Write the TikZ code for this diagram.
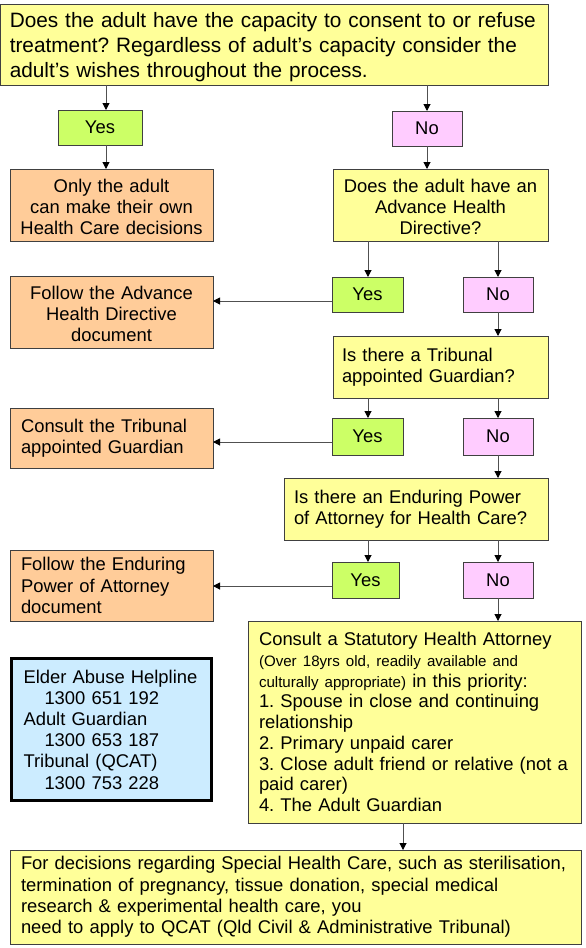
\documentclass[tikz,border=0pt]{standalone}
\usepackage{fontspec}
\setmainfont{Liberation Sans}
\usetikzlibrary{arrows.meta}
\frenchspacing
\definecolor{byel}{HTML}{FFFF99}
\definecolor{bgrn}{HTML}{CCFF66}
\definecolor{bpnk}{HTML}{FFCCFF}
\definecolor{borg}{HTML}{FFCC99}
\definecolor{bblu}{HTML}{CCECFF}
\definecolor{edgec}{HTML}{404040}
\definecolor{linec}{HTML}{505050}
\begin{document}
\begin{tikzpicture}[x=1pt,y=-1pt,
  box/.style={draw=edgec,line width=1pt,inner sep=0pt,outer sep=0pt,
    font=\fontsize{18.4}{21.3}\selectfont},
  yel/.style={box,fill=byel},
  org/.style={box,fill=borg},
  yesbox/.style={box,fill=bgrn,align=center},
  nobox/.style={box,fill=bpnk,align=center},
  arr/.style={draw=linec,line width=1pt,-{Triangle[length=7pt,width=7pt,fill=black,color=black]}}]
\useasboundingbox[fill=white] (0,0) rectangle (586,948);

% top
\node[yel,minimum width=547.5,minimum height=81,text width=529,align=left,
  font=\fontsize{20.8}{25}\selectfont] (top) at (274.25,44.5)
  {\rule{0pt}{21pt}\mbox{Does the adult have the capacity to consent to or refuse}\\\mbox{treatment? Regardless of adult’s capacity consider the}\\adult’s wishes throughout the process.};

\node[yesbox,minimum width=84,minimum height=35] (yes1) at (100,127.5) {Yes};
\node[nobox,minimum width=70,minimum height=35] (no1) at (427,128.5) {No};

\node[org,minimum width=203,minimum height=72,text width=200,align=center] (only) at (111.5,205)
  {\rule{0pt}{17pt}Only the adult\\can make their own\\Health Care decisions};
\node[yel,minimum width=215,minimum height=72,text width=212,align=center] (ahd) at (440.5,205)
  {\rule{0pt}{17pt}Does the adult have an\\Advance Health\\Directive?};

\node[yesbox,minimum width=71,minimum height=35] (yes2) at (367.5,294.5) {Yes};
\node[nobox,minimum width=70,minimum height=35] (no2) at (498,294.5) {No};
\node[org,minimum width=203,minimum height=72,text width=200,align=center] (fahd) at (111.5,312)
  {\rule{0pt}{17pt}Follow the Advance\\Health Directive\\document};

\node[yel,minimum width=215,minimum height=62,text width=197,align=left] (trib) at (440.5,367)
  {Is there a Tribunal\\appointed Guardian?};
\node[yesbox,minimum width=71,minimum height=37] (yes3) at (367.5,436.5) {Yes};
\node[nobox,minimum width=70,minimum height=37] (no3) at (498,436.5) {No};
\node[org,minimum width=203,minimum height=60,text width=181,align=left] (ctrib) at (111.5,438)
  {Consult the Tribunal\\appointed Guardian};

\node[yel,minimum width=264,minimum height=62,text width=244,align=left] (epa) at (416,509)
  {Is there an Enduring Power\\of Attorney for Health Care?};
\node[yesbox,minimum width=67,minimum height=36] (yes4) at (365.5,580) {Yes};
\node[nobox,minimum width=70,minimum height=36] (no4) at (498,580) {No};
\node[org,minimum width=203,minimum height=71,text width=181,align=left] (fepa) at (111.5,585.5)
  {Follow the Enduring\\Power of Attorney\\document};

\node[yel,minimum width=333,minimum height=202,text width=311,align=left,
  font=\fontsize{18.4}{20.75}\selectfont] (stat) at (414.5,722)
  {Consult a Statutory Health Attorney\\
   {\fontsize{15.1}{20.75}\selectfont (Over 18yrs old, readily available and}\\
   \mbox{{\fontsize{15.1}{20.75}\selectfont culturally appropriate)} in this priority:}\\
   1. Spouse in close and continuing\\relationship\\
   2. Primary unpaid carer\\
   \mbox{3. Close adult friend or relative (not a}\\paid carer)\\
   4. The Adult Guardian};

\node[draw=black,line width=3pt,fill=bblu,inner sep=0pt,minimum width=200,minimum height=142,
  text width=176,align=left,font=\fontsize{18.4}{21.2}\selectfont] (help) at (111.5,729.5)
  {Elder Abuse Helpline\\\hspace*{21pt}1300 651 192\\Adult Guardian\\\hspace*{21pt}1300 653 187\\Tribunal (QCAT)\\\hspace*{21pt}1300 753 228};

\node[yel,minimum width=571,minimum height=94,text width=549,align=left,
  font=\fontsize{18.4}{21.4}\selectfont] (spec) at (295.5,897)
  {\mbox{For decisions regarding Special Health Care, such as sterilisation,}\\termination of pregnancy, tissue donation, special medical\\research \& experimental health care, you\\need to apply to QCAT (Qld Civil \& Administrative Tribunal)};

% connector columns
\coordinate (cA) at (106,0);
\coordinate (cB) at (427,0);
\coordinate (cC) at (368,0);
\coordinate (cD) at (498,0);
\coordinate (cE) at (403,0);
\coordinate (r2) at (0,301);
\coordinate (r3) at (0,442);
\coordinate (r4) at (0,586);

\draw[arr] (top.south -| cA) -- (yes1.north -| cA);
\draw[arr] (yes1.south -| cA) -- (only.north -| cA);
\draw[arr] (top.south -| cB) -- (no1.north -| cB);
\draw[arr] (no1.south -| cB) -- (ahd.north -| cB);
\draw[arr] (ahd.south -| cC) -- (yes2.north -| cC);
\draw[arr] (ahd.south -| cD) -- (no2.north -| cD);
\draw[arr] (yes2.west |- r2) -- (fahd.east |- r2);
\draw[arr] (no2.south -| cD) -- (trib.north -| cD);
\draw[arr] (trib.south -| cC) -- (yes3.north -| cC);
\draw[arr] (trib.south -| cD) -- (no3.north -| cD);
\draw[arr] (yes3.west |- r3) -- (ctrib.east |- r3);
\draw[arr] (no3.south -| cD) -- (epa.north -| cD);
\draw[arr] (epa.south -| cC) -- (yes4.north -| cC);
\draw[arr] (epa.south -| cD) -- (no4.north -| cD);
\draw[arr] (yes4.west |- r4) -- (fepa.east |- r4);
\draw[arr] (no4.south -| cD) -- (stat.north -| cD);
\draw[arr] (stat.south -| cE) -- (spec.north -| cE);
\end{tikzpicture}
\end{document}
